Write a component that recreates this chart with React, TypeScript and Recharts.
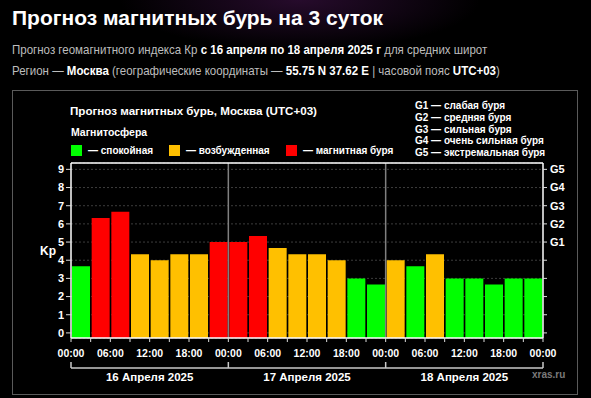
import { BarChart, Bar, Cell, XAxis, YAxis, CartesianGrid, ReferenceLine } from 'recharts';

// 3-hour slots, 16-18 April 2025
const slots = [
  '16 00:00', '16 03:00', '16 06:00', '16 09:00', '16 12:00', '16 15:00', '16 18:00', '16 21:00',
  '17 00:00', '17 03:00', '17 06:00', '17 09:00', '17 12:00', '17 15:00', '17 18:00', '17 21:00',
  '18 00:00', '18 03:00', '18 06:00', '18 09:00', '18 12:00', '18 15:00', '18 18:00', '18 21:00',
];
const kpValues = [
  3.67, 6.33, 6.67, 4.33, 4.0, 4.33, 4.33, 5.0,
  5.0, 5.33, 4.67, 4.33, 4.33, 4.0, 3.0, 2.67,
  4.0, 3.67, 4.33, 3.0, 3.0, 2.67, 3.0, 3.0,
];
// labels at slot boundaries (25 boundaries for 24 slots)
const timeTickLabels = [
  '00:00', '', '06:00', '', '12:00', '', '18:00', '',
  '00:00', '', '06:00', '', '12:00', '', '18:00', '',
  '00:00', '', '06:00', '', '12:00', '', '18:00', '', '00:00',
];
const dayLabels = ['16 Апреля 2025', '17 Апреля 2025', '18 Апреля 2025'];
const daySeparators = ['17 00:00', '18 00:00'];
const kpTicks = [0, 1, 2, 3, 4, 5, 6, 7, 8, 9];
const gTickLabels = ['', '', '', '', '', 'G1', 'G2', 'G3', 'G4', 'G5'];
const gLegend = [
  ['G1', 'слабая буря'],
  ['G2', 'средняя буря'],
  ['G3', 'сильная буря'],
  ['G4', 'очень сильная буря'],
  ['G5', 'экстремальная буря'],
];

const GREEN = '#00ff00';
const ORANGE = '#ffc000';
const RED = '#ff0000';
const stateLegend = [
  { label: '— спокойная', color: GREEN, left: 71 },
  { label: '— возбужденная', color: ORANGE, left: 169 },
  { label: '— магнитная буря', color: RED, left: 286 },
];

const Y_MIN = -0.28;
const Y_MAX = 9.35;
const HALF_BAND = 472 / 48;
const FONT = '"Liberation Sans", Arial, sans-serif';
const NARROW = '"Liberation Sans Narrow", "Arial Narrow", "Liberation Sans", sans-serif';

const data = slots.map((slot, i) => ({ slot, kp: kpValues[i] }));

function kpColor(kp: number) {
  if (kp >= 5) return RED;
  if (kp >= 4) return ORANGE;
  return GREEN;
}

function TimeTick(props: any) {
  const { x, y, payload } = props;
  const half = payload.offset || HALF_BAND;
  const i = slots.indexOf(payload.value);
  const marks = [{ x: x - half, label: timeTickLabels[i] }];
  if (i === slots.length - 1) marks.push({ x: x + half, label: timeTickLabels[i + 1] });
  return (
    <g>
      {marks.map((m) => (
        <g key={m.x}>
          <line x1={m.x} x2={m.x} y1={y} y2={y + 4} stroke="#ddd" strokeWidth={1} />
          {m.label && (
            <text x={m.x} y={y + 18.5} textAnchor="middle" fill="#fff" fontSize={10.5} fontWeight="bold" fontFamily={FONT}>
              {m.label}
            </text>
          )}
        </g>
      ))}
    </g>
  );
}

function DayTick(props: any) {
  const { x, y, payload } = props;
  const half = payload.offset || HALF_BAND;
  const i = slots.indexOf(payload.value);
  const left = x - half;
  return (
    <g>
      {i % 8 === 0 && <line x1={left} x2={left} y1={y - 6} y2={y} stroke="#c8c8c8" strokeWidth={1.5} />}
      {i === slots.length - 1 && <line x1={x + half} x2={x + half} y1={y - 6} y2={y} stroke="#c8c8c8" strokeWidth={1.5} />}
      {i % 8 === 4 && (
        <text x={left} y={y + 12.5} textAnchor="middle" fill="#fff" fontSize={11.5} fontWeight="bold" fontFamily={FONT}>
          {dayLabels[Math.floor(i / 8)]}
        </text>
      )}
    </g>
  );
}

const tickStyle = { fill: '#fff', fontSize: 11, fontWeight: 'bold', fontFamily: FONT };
const subtitleStyle = {
  position: 'absolute' as const, left: 12, color: '#bdbdbd', fontFamily: NARROW, fontSize: 13,
  whiteSpace: 'nowrap' as const, transform: 'scaleX(0.885)', transformOrigin: '0 0',
};

export default function App() {
  return (
    <div
      style={{
        position: 'absolute', left: 0, top: 0, width: 591, height: 398, overflow: 'hidden',
        background: 'radial-gradient(ellipse 180px 50px at 300px 0px, rgba(70,20,80,0.55), rgba(0,0,0,0)), #000',
        fontFamily: FONT,
      }}
    >
      <div style={{ position: 'absolute', left: 12, top: 6, color: '#fff', fontFamily: NARROW, fontWeight: 'bold', fontSize: 21, whiteSpace: 'nowrap' }}>
        Прогноз магнитных бурь на 3 суток
      </div>
      <div style={{ ...subtitleStyle, top: 42 }}>
        Прогноз геомагнитного индекса Кр <b style={{ color: '#fff' }}>с 16 апреля по 18 апреля 2025 г</b> для средних широт
      </div>
      <div style={{ ...subtitleStyle, top: 63 }}>
        Регион — <b style={{ color: '#fff' }}>Москва</b> (географические координаты — <b style={{ color: '#fff' }}>55.75 N 37.62 E</b> | часовой пояс <b style={{ color: '#fff' }}>UTC+03</b>)
      </div>

      <div style={{ position: 'absolute', left: 12, top: 90, width: 566, height: 305, border: '1px solid #5a5a5a', boxSizing: 'border-box' }} />

      <div style={{ position: 'absolute', left: 70, top: 104, color: '#fff', fontWeight: 'bold', fontSize: 11.6, whiteSpace: 'nowrap' }}>
        Прогноз магнитных бурь, Москва (UTC+03)
      </div>
      <div style={{ position: 'absolute', left: 71, top: 126, color: '#fff', fontWeight: 'bold', fontSize: 10.5, whiteSpace: 'nowrap' }}>
        Магнитосфера
      </div>
      {stateLegend.map((s) => (
        <div key={s.label} style={{ position: 'absolute', left: s.left, top: 145, display: 'flex', alignItems: 'center', whiteSpace: 'nowrap' }}>
          <div style={{ width: 11, height: 11, background: s.color }} />
          <span style={{ marginLeft: 6, color: '#fff', fontWeight: 'bold', fontSize: 10 }}>{s.label}</span>
        </div>
      ))}
      {gLegend.map(([g, text], i) => (
        <div key={g} style={{ position: 'absolute', left: 415, top: 100 + i * 11.75, color: '#fff', fontWeight: 'bold', fontSize: 10, whiteSpace: 'nowrap' }}>
          {g} — {text}
        </div>
      ))}
      <div style={{ position: 'absolute', left: 532, top: 369, color: '#7a7a7a', fontWeight: 'bold', fontSize: 10 }}>xras.ru</div>

      <div style={{ position: 'absolute', left: 0, top: 0 }}>
        <BarChart
          width={591}
          height={398}
          data={data}
          margin={{ top: 162, right: 0, bottom: 0, left: 0 }}
          barCategoryGap={1}
        >
          <CartesianGrid xAxisId="bars" yAxisId="kp" vertical={false} stroke="#3c3c3c" strokeDasharray="2 2" />
          <XAxis xAxisId="top" dataKey="slot" orientation="top" height={1} tick={false} tickLine={false} axisLine={{ stroke: '#fff', strokeWidth: 1.5 }} />
          <XAxis
            xAxisId="bars"
            dataKey="slot"
            interval={0}
            height={30}
            tickSize={0}
            tickMargin={0}
            axisLine={{ stroke: '#fff', strokeWidth: 1.5 }}
            tickLine={false}
            tick={<TimeTick />}
          />
          <XAxis
            xAxisId="days"
            dataKey="slot"
            interval={0}
            height={30}
            tickSize={0}
            tickMargin={0}
            axisLine={{ stroke: '#c8c8c8', strokeWidth: 1.5 }}
            tickLine={false}
            tick={<DayTick />}
          />
          <YAxis
            yAxisId="kp"
            domain={[Y_MIN, Y_MAX]}
            allowDataOverflow
            ticks={kpTicks}
            interval={0}
            width={71}
            tickSize={5}
            tickMargin={2}
            axisLine={{ stroke: '#fff', strokeWidth: 1.5 }}
            tickLine={{ stroke: '#ddd' }}
            tick={tickStyle}
            label={{ value: 'Kp', position: 'insideLeft', offset: 40, fill: '#fff', fontSize: 12, fontWeight: 'bold', fontFamily: FONT }}
          />
          <YAxis
            yAxisId="g"
            orientation="right"
            domain={[Y_MIN, Y_MAX]}
            allowDataOverflow
            ticks={kpTicks}
            interval={0}
            width={48}
            tickSize={4}
            tickMargin={3}
            tickFormatter={(v: number) => gTickLabels[v]}
            axisLine={{ stroke: '#fff', strokeWidth: 1.5 }}
            tickLine={{ stroke: '#ddd' }}
            tick={tickStyle}
          />
          <Bar
            xAxisId="bars"
            yAxisId="kp"
            dataKey={(d: { kp: number }) => [Y_MIN, d.kp]}
            isAnimationActive={false}
          >
            {data.map((d) => (
              <Cell key={d.slot} fill={kpColor(d.kp)} />
            ))}
          </Bar>
          {daySeparators.map((s) => (
            <ReferenceLine key={s} xAxisId="bars" yAxisId="kp" x={s} position="start" stroke="#808080" strokeWidth={1.5} />
          ))}
        </BarChart>
      </div>
    </div>
  );
}
